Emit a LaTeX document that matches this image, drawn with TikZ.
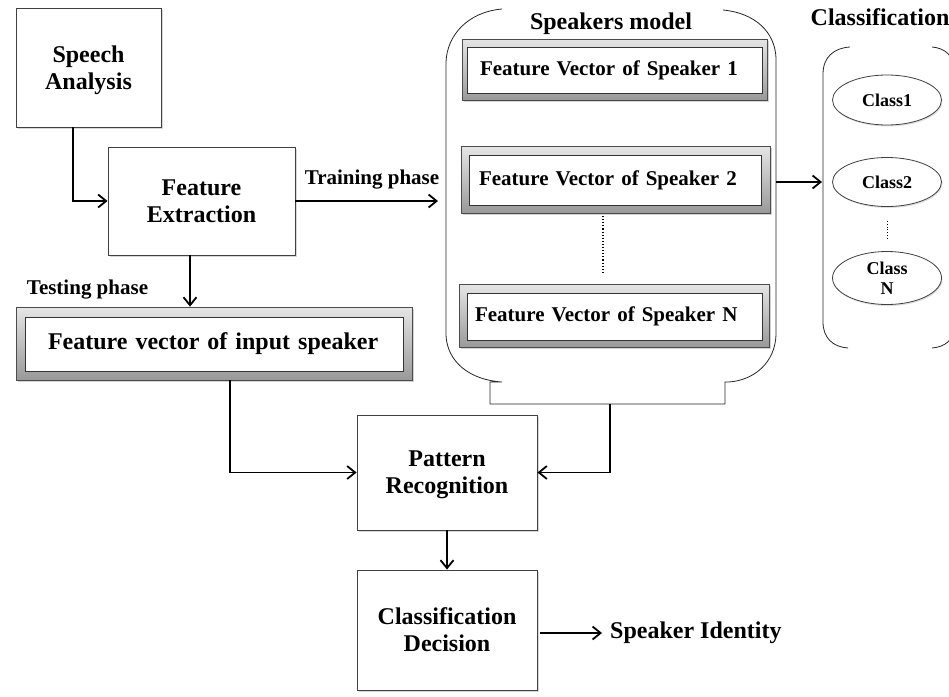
\documentclass[tikz,border=0pt]{standalone}
\usepackage{fontspec}
\setmainfont{Liberation Serif}
\usetikzlibrary{arrows.meta,shadows,shapes.geometric}

\newcommand\dgbig{\fontsize{24}{27}\selectfont\bfseries}
\newcommand\dgmid{\fontsize{21}{24}\selectfont\bfseries}
\newcommand\dgsmall{\fontsize{18}{20}\selectfont\bfseries}

\begin{document}
\begin{tikzpicture}[x=1pt,y=-1pt,
  box/.style={draw=black!75, line width=0.9pt, fill=white, align=center,
    inner sep=0pt, font=\dgbig, text depth=0pt,
    drop shadow={shadow xshift=1.5pt, shadow yshift=-1.5pt, opacity=0.3}},
  fvout/.style={draw=black!70, line width=0.7pt, top color=black!10,
    bottom color=black!40, inner sep=0pt,
    drop shadow={shadow xshift=1.5pt, shadow yshift=-2pt, opacity=0.35}},
  fvin/.style={draw=black!80, line width=0.9pt, fill=white, align=left,
    inner ysep=0pt},
  cls/.style={ellipse, draw=black!75, line width=0.8pt, fill=white,
    inner sep=0pt, align=center, font=\dgsmall,
    drop shadow={shadow xshift=1pt, shadow yshift=-1.5pt, opacity=0.25}},
  frame/.style={draw=black!85, line width=0.8pt},
  conn/.style={draw=black, line width=1.5pt,
    -{Straight Barb[length=8pt,width=13pt,line width=1.8pt]}},
  lbl/.style={inner sep=0pt}]

\useasboundingbox (0,0) rectangle (949,696);
\fill[white] (0,0) rectangle (949,696);
\clip (0,0) rectangle (949,696);

% ---- left chain -------------------------------------------------
\node[box, minimum width=145pt, minimum height=119pt] (sa) at (88.5,67.5) {Speech\\Analysis};
\node[box, minimum width=187pt, minimum height=108pt] (fe) at (201.5,201) {Feature\\Extraction};

\node[fvout, minimum width=396pt, minimum height=73pt] (fvout) at (214,343.5) {};
\node[fvin, minimum height=54pt, text width=332pt, inner xsep=23pt, font=\dgbig] (fvin) at (214,344) {Feature vector of input speaker};

\node[lbl, font=\dgmid] (test) at (87.5,290) {Testing phase};
\node[lbl, font=\dgmid] (train) at (372,180) {Training phase};

% ---- speakers model container ------------------------------------
\path[frame] (502,9) .. controls (468,12) and (447,35) .. (446,62)
  -- (446,335) .. controls (447,362) and (470,380) .. (502,382)
  -- (490,382) -- (490,404) -- (725,404) -- (725,382) -- (729,382)
  .. controls (755,380) and (775,362) .. (776,335)
  -- (776,58) .. controls (775,32) and (755,13) .. (723,10);
\node[lbl, font=\dgbig] (spk) at (611,24) {Speakers model};

\node[fvout, minimum width=305pt, minimum height=61pt] (fv1o) at (614.5,69.5) {};
\node[fvin, minimum height=46pt, text width=269pt, inner xsep=13pt, font=\dgmid] (fv1) at (614.5,70) {Feature Vector of Speaker 1};

\node[fvout, minimum width=309pt, minimum height=67pt] (fv2o) at (615.5,179.5) {};
\node[fvin, minimum height=50pt, text width=272pt, inner xsep=10pt, font=\dgmid] (fv2) at (615,180) {Feature Vector of Speaker 2};

\node[fvout, minimum width=310pt, minimum height=63pt] (fvNo) at (614,315.5) {};
\node[fvin, minimum height=47pt, text width=279pt, inner xsep=8pt, font=\dgmid] (fvN) at (614.5,316.5) {Feature Vector of Speaker N};

\draw[black, line width=1.1pt, dotted] (603,216) -- (603,273);

% ---- classification container ------------------------------------
\path[frame] (850,47) .. controls (834,48) and (823,57) .. (823,74)
  -- (823,322) .. controls (823,338) and (833,347) .. (848,348);
\path[frame] (932,47) .. controls (945,48) and (954,56) .. (955,70)
  -- (955,326) .. controls (954,340) and (945,347) .. (932,348);
\node[lbl, font=\dgbig] (clsT) at (880,17) {Classification};

\node[cls, minimum width=109pt, minimum height=50pt] (c1) at (887,100) {Class1};
\node[cls, minimum width=109pt, minimum height=49pt] (c2) at (887,182) {Class2};
\node[cls, minimum width=109pt, minimum height=53pt] (cN) at (887,278) {Class\\N};
\draw[black, line width=0.8pt, dotted] (887,221) -- (887,238);

% ---- decision chain ----------------------------------------------
\node[box, minimum width=180pt, minimum height=115pt] (pr) at (447,472.5) {Pattern\\Recognition};
\node[box, minimum width=180pt, minimum height=120pt] (cd) at (447,630) {Classification\\Decision};
\node[lbl, font=\dgbig, anchor=west, inner xsep=8pt] (si) at (602,633) {Speaker Identity};

% ---- connectors --------------------------------------------------
\coordinate (trend) at (438,201);
\coordinate (brk) at (610,404);
\coordinate (spR) at (776,182);
\coordinate (clL) at (822,182);
\coordinate (cda) at (540,633);

\draw[conn] ([xshift=-15.5pt]sa.south) |- (fe.west);
\draw[conn] (fe.east) -- (trend);
\draw[conn] ([xshift=-11.5pt]fe.south) -- ([xshift=-11.5pt]fe.south |- fvout.north);
\draw[conn] ([xshift=16pt]fvout.south) |- (pr.west);
\draw[conn] (brk) |- (pr.east);
\draw[conn] (pr.south) -- (cd.north);
\draw[conn] (cda) -- (si.west);
\draw[conn] (spR) -- (clL);
\end{tikzpicture}
\end{document}
